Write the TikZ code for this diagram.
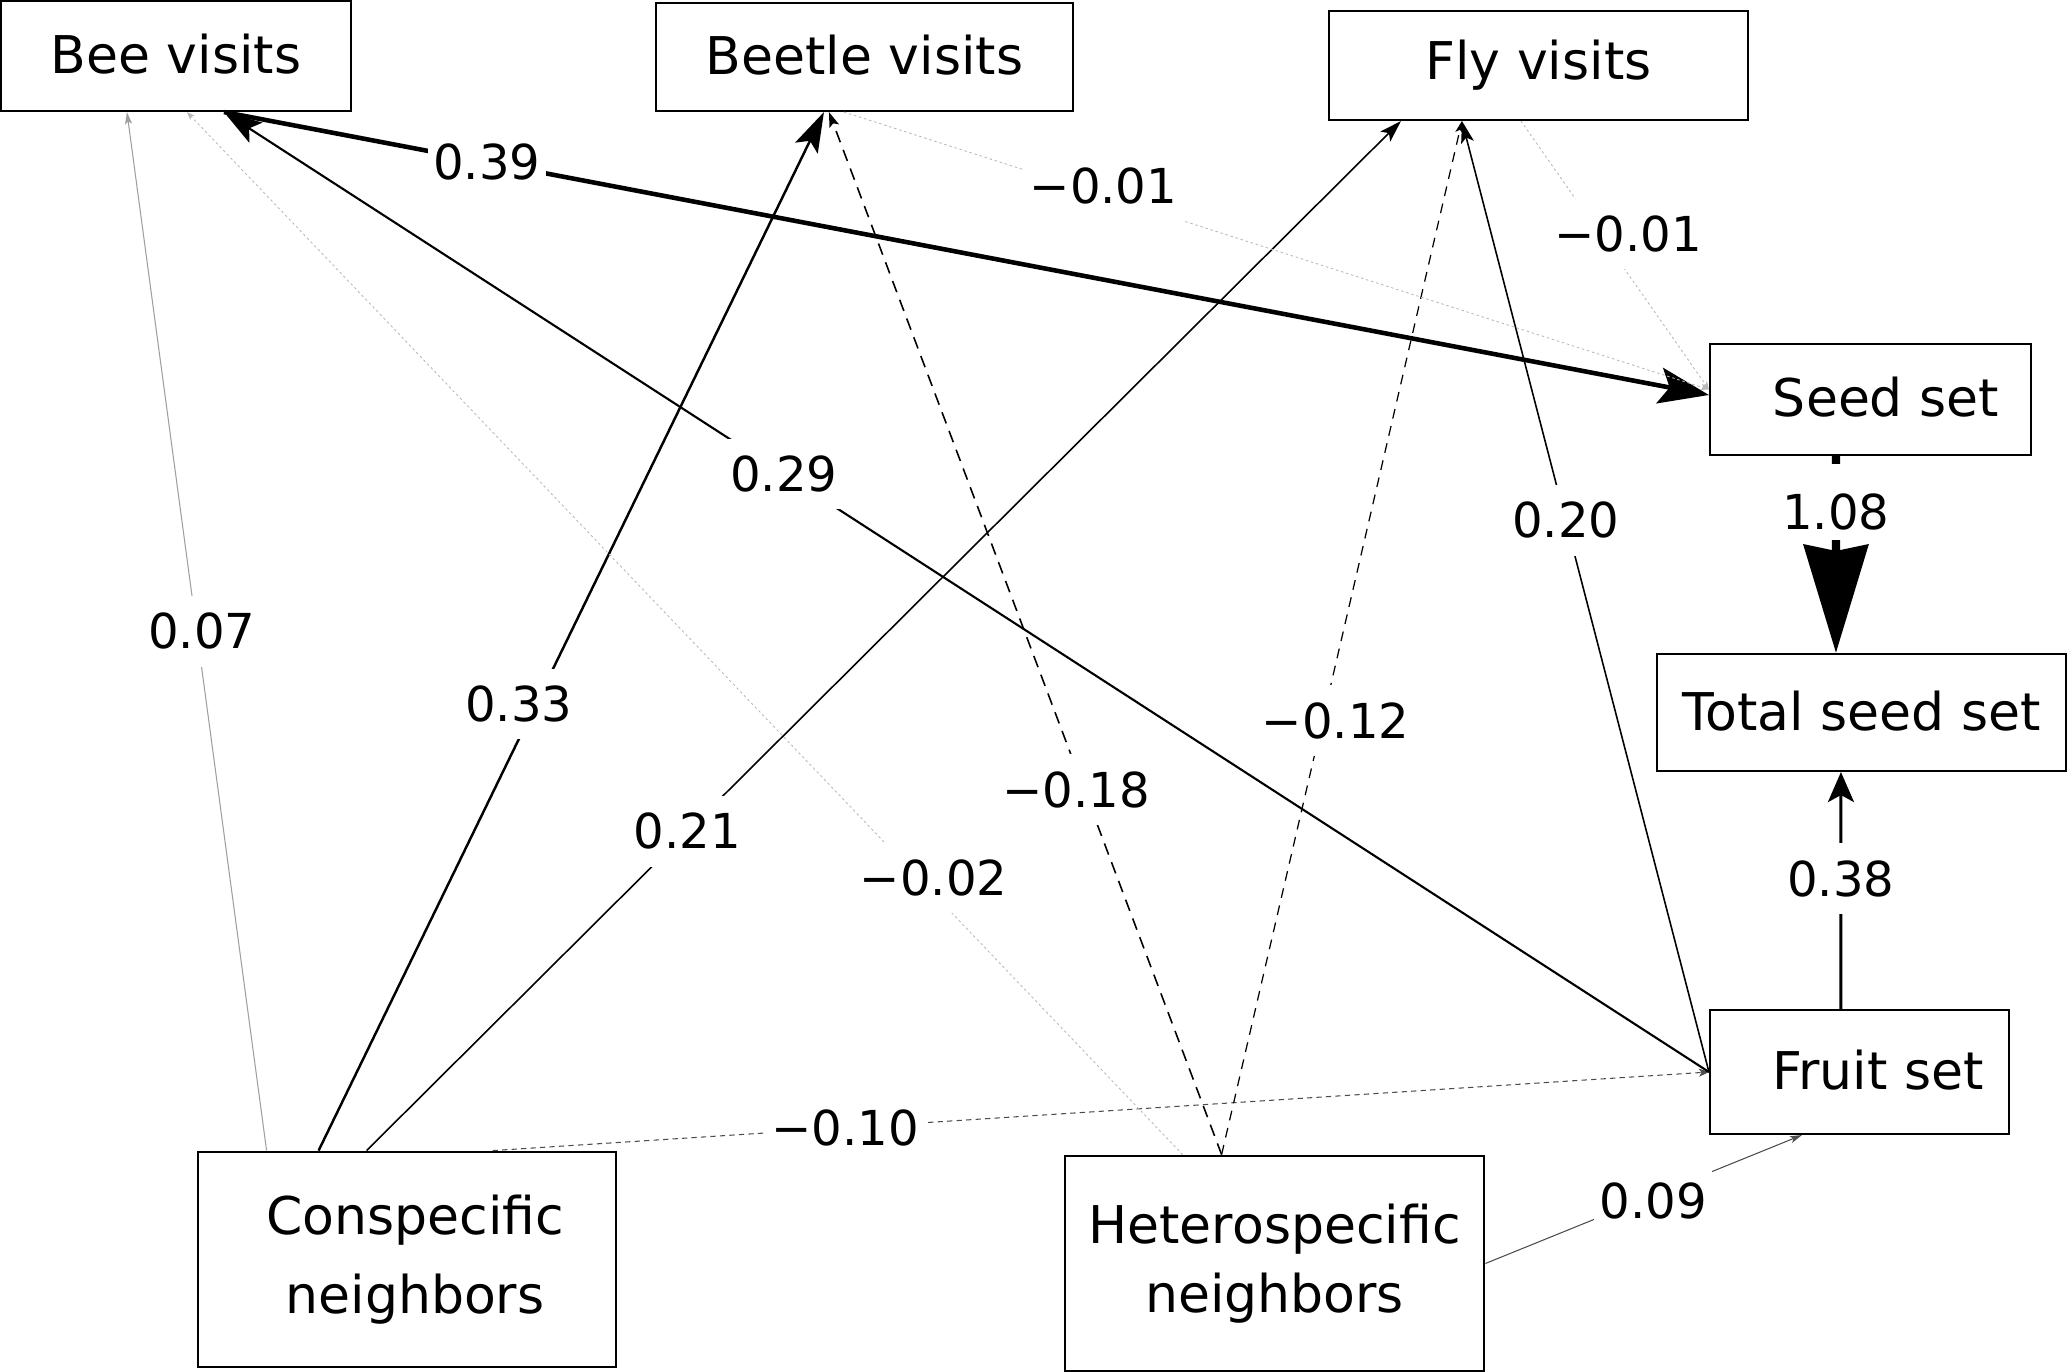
\documentclass[tikz,border=0pt]{standalone}
\usepackage{fontspec}
\setmainfont{DejaVu Sans}
\usetikzlibrary{arrows.meta}

\begin{document}
\begin{tikzpicture}[
  obs/.style={draw, line width=0.6pt, inner sep=0pt, align=center,
    font=\fontsize{14.8}{22.5}\selectfont},
  coef/.style={fill=white, inner xsep=1.5pt, inner ysep=1.7mm, font=\fontsize{13.7}{16}\selectfont},
  hd/.style n args={3}{-{Stealth[length=#1, width=#2, inset=#3]}},
  faint/.style={draw=gray!55, line width=0.25pt, dash pattern=on 0.7pt off 0.8pt,
    hd={0.8mm}{0.6mm}{0.2mm}},
  ]
  \useasboundingbox (0,0) rectangle (20.67,-13.72);

  % observed variables
  \node (bee) [obs, minimum width=3.5cm, minimum height=1.1cm] at (1.76,-0.56) {\raisebox{0.4mm}{Bee visits}};
  \node (beetle) [obs, minimum width=4.17cm, minimum height=1.08cm] at (8.645,-0.57) {\raisebox{0.4mm}{Beetle visits}};
  \node (fly) [obs, minimum width=4.19cm, minimum height=1.09cm] at (15.385,-0.655) {\raisebox{0.3mm}{Fly visits}};
  \node (seed) [obs, minimum width=3.21cm, minimum height=1.11cm] at (18.705,-3.995) {\hspace*{3.1mm}\raisebox{0.5mm}{Seed set}};
  \node (total) [obs, minimum width=4.09cm, minimum height=1.17cm] at (18.615,-7.125) {\raisebox{0.4mm}{Total seed set}};
  \node (fruit) [obs, minimum width=2.99cm, minimum height=1.24cm] at (18.595,-10.72) {\hspace*{3.7mm}\raisebox{0.4mm}{Fruit set}};
  \node (cons) [obs, line width=0.8pt, minimum width=4.18cm, minimum height=2.15cm] at (4.07,-12.595) {\hspace*{1.6mm}Conspecific\\\hspace*{1.6mm}neighbors};
  \node (het) [obs, line width=0.8pt, minimum width=4.19cm, minimum height=2.15cm,
    font=\fontsize{14.8}{19.5}\selectfont] at (12.745,-12.635) {Heterospecific\\neighbors};

  % conspecific neighbors
  \draw[draw=gray!75, line width=0.3pt, hd={1.2mm}{0.7mm}{0.25mm}] ([xshift=7mm]cons.north west) -- node[coef, xshift=0.5mm]{0.07} ([xshift=12.7mm]bee.south west);
  \draw[line width=0.7pt, hd={4mm}{2.5mm}{0.8mm}] ([xshift=12.2mm]cons.north west) -- node[coef, pos=0.43, xshift=-1.7mm]{0.33} ([xshift=16.9mm]beetle.south west);
  \draw[line width=0.45pt, hd={2.2mm}{1.4mm}{0.5mm}] ([xshift=17mm]cons.north west) -- node[coef, pos=0.31]{0.21} ([xshift=7.3mm]fly.south west);
  \draw[draw=black!70, line width=0.3pt, dash pattern=on 1.5pt off 1.2pt, hd={1mm}{0.8mm}{0.25mm}] ([xshift=29.6mm]cons.north west) -- node[coef, pos=0.29]{−0.10} (fruit.west);

  % heterospecific neighbors
  \draw[faint] ([xshift=11.9mm]het.north west) -- node[coef, pos=0.25, yshift=1.6mm]{−0.02} ([xshift=18.7mm]bee.south west);
  \draw[line width=0.45pt, dash pattern=on 3.4pt off 2.3pt, hd={1.5mm}{1mm}{0.3mm}] ([xshift=15.8mm]het.north west) -- node[coef, pos=0.35, xshift=-0.8mm]{−0.18} ([xshift=17.4mm]beetle.south west);
  \draw[line width=0.35pt, dash pattern=on 2.8pt off 2.2pt, hd={1.2mm}{0.8mm}{0.3mm}] ([xshift=15.8mm]het.north west) -- node[coef, pos=0.42, xshift=1.3mm]{−0.12} ([xshift=13.4mm]fly.south west);
  \draw[draw=black!70, line width=0.3pt, hd={1.2mm}{0.7mm}{0.3mm}] (het.east) -- node[coef, pos=0.53, yshift=-0.6mm]{0.09} ([xshift=9.3mm]fruit.south west);

  % fruit set
  \draw[line width=0.6pt, hd={3.8mm}{2.4mm}{0.8mm}] (fruit.west) -- node[coef, pos=0.623]{0.29} ([xshift=22.4mm]bee.south west);
  \draw[line width=0.45pt, hd={2.2mm}{1.3mm}{0.5mm}] (fruit.west) -- node[coef, pos=0.58]{0.20} ([xshift=13.4mm]fly.south west);
  \draw[line width=0.85pt, hd={3mm}{2.6mm}{0.7mm}] ([xshift=13.2mm]fruit.north west) -- node[coef, pos=0.55]{0.38} ([xshift=18.5mm]total.south west);

  % visits to seed set
  \draw[line width=1.3pt, hd={5mm}{3.6mm}{1mm}] ([xshift=22.4mm]bee.south west) -- node[coef, pos=0.177]{0.39} ([yshift=0.45mm]seed.west);
  \draw[faint] ([xshift=18.9mm]beetle.south west) -- node[coef, pos=0.3, yshift=0.9mm]{−0.01} ([yshift=1mm]seed.west);
  \draw[faint] ([xshift=19.3mm]fly.south west) -- node[coef, pos=0.42, xshift=2.8mm]{−0.01} ([yshift=1mm]seed.west);
  \draw[line width=2.3pt, hd={10.8mm}{6.4mm}{0.6mm}] ([xshift=12.7mm]seed.south west) -- node[coef, pos=0.235, inner ysep=1mm, text height=5.5mm]{1.08} ([xshift=18mm]total.north west);
\end{tikzpicture}
\end{document}
